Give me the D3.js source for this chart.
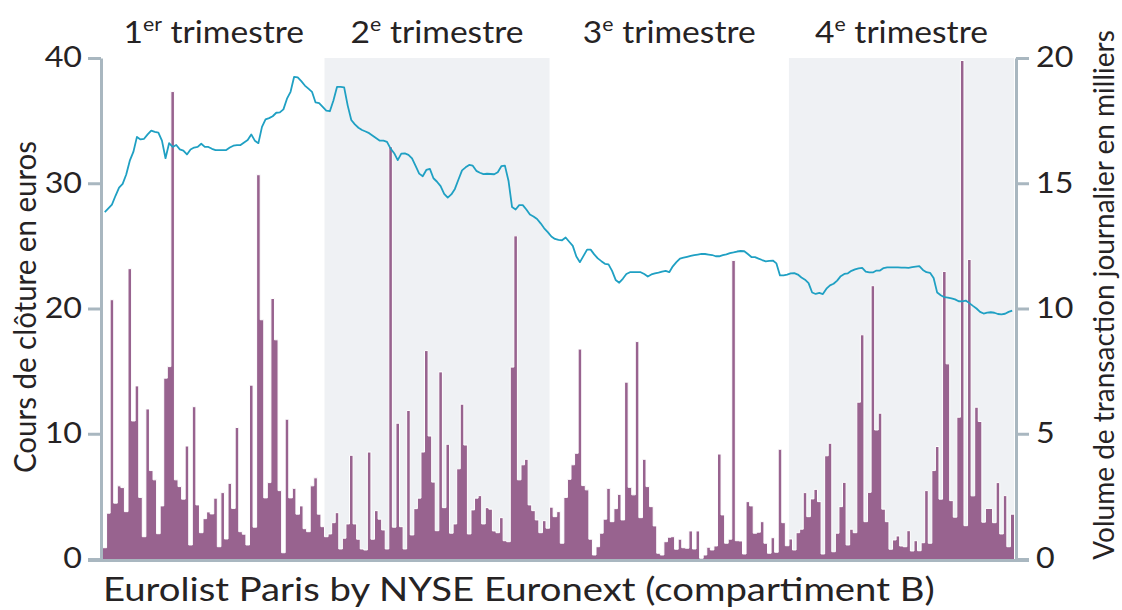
<!DOCTYPE html>
<html>
<head>
<meta charset="utf-8">
<script src="https://cdn.jsdelivr.net/npm/d3@7"></script>
<style>
    body { margin: 0; background: #fff; }
    svg { display: block; }
    text { font-family: Lato, "Open Sans", sans-serif; fill: #262324; }
</style>
</head>
<body>
<svg id="chart" width="1122" height="610"></svg>
<script>
// Volume journalier (milliers) par trimestre
const volumeT1 = [0.45, 1.83, 10.35, 2.23, 2.92, 2.85, 1.89, 11.59, 5.51, 6.91,
    2.46, 0.89, 5.99, 3.53, 3.16, 1.01, 2.12, 7.22, 7.68, 18.66,
    3.16, 2.89, 2.39, 4.51, 0.56, 6.08, 2.16, 1.05, 1.61, 1.88,
    1.8, 2.43, 0.49, 2.65, 0.8, 3.02, 2.02, 5.25, 1.09, 0.99,
    0.56, 6.94, 1.27, 15.34, 9.55, 2.44, 3.05, 10.4, 8.75, 2.73,
    0.25, 5.58, 2.44, 2.82, 1.79, 2.12, 1.21, 1.09, 2.92, 3.24,
    1.79, 1.29];
const volumeT2 = [0.89, 1.0, 1.45, 1.85, 0.4, 0.83, 1.4, 4.14, 1.4, 0.79,
    0.4, 0.36, 4.27, 0.79, 1.93, 1.59, 1.16, 0.4, 16.46, 1.27,
    5.42, 1.29, 0.4, 5.93, 0.96, 2.01, 2.43, 4.27, 8.32, 4.91,
    3.07, 1.13, 7.47, 2.05, 4.58, 1.03, 1.4, 3.6, 6.18, 4.55,
    1.0, 1.96, 2.43, 2.53, 1.4, 2.05, 1.99, 1.12, 1.05, 1.65,
    0.73, 0.69, 7.66, 12.9, 3.16, 3.76, 3.98, 2.16, 1.93, 1.56,
    1.05, 1.53, 1.23];
const volumeT3 = [2.07, 1.69, 1.89, 0.63, 2.46, 3.18, 3.76, 4.22, 8.38, 2.93,
    2.76, 0.79, 0.16, 0.49, 1.03, 1.59, 2.82, 1.49, 2.01, 2.58,
    1.56, 7.06, 2.86, 2.56, 8.68, 1.65, 3.98, 2.89, 2.09, 1.32,
    0.23, 0.16, 0.69, 0.87, 0.89, 0.39, 0.79, 0.45, 0.43, 1.12,
    0.4, 1.12, 0.03, 0.16, 0.47, 0.36, 0.52, 4.19, 1.76, 0.63,
    0.79, 11.92, 0.73, 0.72, 0.2, 2.29, 2.12, 1.03, 1.07, 1.49,
    0.63, 0.23, 0.85, 0.27, 4.38, 1.45, 0.53];
const volumeT4 = [0.8, 0.36, 1.05, 1.19, 2.65, 1.69, 2.4, 2.78, 2.29, 0.2,
    4.12, 4.62, 0.29, 1.03, 2.09, 3.06, 0.56, 1.19, 1.05, 6.26,
    8.95, 1.49, 2.66, 10.91, 5.15, 5.82, 1.99, 1.49, 0.39, 0.76,
    0.92, 0.52, 0.49, 1.13, 0.32, 0.73, 0.33, 0.65, 2.73, 0.63,
    3.53, 4.49, 2.39, 11.48, 7.79, 2.33, 1.67, 5.66, 19.9, 1.33,
    11.96, 2.52, 6.06, 5.49, 1.47, 2.02, 2.02, 1.45, 3.05, 1.0,
    2.53, 0.49, 1.79];

// Cours de clôture (euros) par trimestre
const priceT1 = [27.7, 28.0, 28.3, 29.0, 29.65, 29.95, 30.7, 31.8, 32.5, 33.7,
    33.5, 33.55, 33.9, 34.2, 34.1, 34.05, 33.4, 32.0, 33.2, 32.9,
    33.05, 32.7, 32.6, 32.3, 32.7, 32.85, 32.9, 33.15, 32.9, 32.9,
    32.75, 32.65, 32.65, 32.65, 32.65, 32.85, 33.0, 33.05, 33.05, 33.26,
    33.45, 33.9, 33.4, 33.2, 34.5, 35.1, 35.2, 35.35, 35.63, 35.66,
    35.9, 36.75, 37.3, 38.5, 38.45, 38.15, 37.8, 37.55, 37.3, 36.45,
    36.4, 36.1];
const priceT2 = [35.8, 35.75, 36.6, 37.69, 37.69, 37.65, 36.2, 35.05, 34.7, 34.43,
    34.25, 34.13, 34.0, 33.8, 33.6, 33.4, 33.4, 33.3, 32.77, 32.4,
    31.85, 32.37, 32.38, 32.27, 31.98, 31.38, 30.77, 30.56, 31.06, 31.15,
    30.4, 30.12, 29.77, 29.16, 28.85, 29.11, 29.55, 30.3, 31.03, 31.27,
    31.46, 31.4, 30.99, 30.84, 30.73, 30.76, 30.74, 30.72, 30.88, 31.36,
    31.41, 30.2, 28.1, 27.9, 28.25, 28.25, 27.9, 27.5, 27.35, 27.15,
    26.8, 26.4, 26.1];
const priceT3 = [25.75, 25.55, 25.48, 25.45, 25.67, 25.33, 25.0, 24.15, 23.7, 24.2,
    24.7, 24.7, 24.32, 24.0, 23.78, 23.57, 23.52, 23.0, 22.28, 22.06,
    22.37, 22.75, 22.9, 22.9, 22.9, 22.9, 22.75, 22.55, 22.72, 22.8,
    22.86, 22.94, 23.0, 22.9, 23.37, 23.7, 23.99, 24.06, 24.13, 24.2,
    24.26, 24.31, 24.36, 24.35, 24.31, 24.27, 24.17, 24.17, 24.26, 24.32,
    24.42, 24.48, 24.55, 24.59, 24.57, 24.35, 24.11, 24.1, 23.98, 23.87,
    23.77, 23.8, 23.83, 23.6, 22.64, 22.64, 22.7];
const priceT4 = [22.8, 22.83, 22.71, 22.48, 22.3, 22.03, 21.28, 21.16, 21.24, 21.15,
    21.58, 21.85, 21.98, 22.23, 22.58, 22.76, 22.81, 23.01, 23.13, 23.21,
    23.25, 22.95, 22.89, 22.88, 23.03, 23.03, 23.23, 23.28, 23.28, 23.28,
    23.28, 23.27, 23.26, 23.25, 23.3, 23.34, 23.38, 23.08, 22.9, 22.85,
    22.43, 21.27, 21.06, 20.9, 20.87, 20.81, 20.73, 20.58, 20.57, 20.63,
    20.43, 20.21, 20.0, 19.73, 19.6, 19.67, 19.7, 19.66, 19.56, 19.53,
    19.58, 19.73, 19.83];

const quarterNumbers = ['1', '2', '3', '4'];
const quarterSuffixes = ['er', 'e', 'e', 'e'];
const priceTicks = [0, 10, 20, 30, 40];
const volumeTicks = [0, 5, 10, 15, 20];
const leftTitle = 'Cours de clôture en euros';
const rightTitle = 'Volume de transaction journalier en milliers';
const sourceLabel = 'Eurolist Paris by NYSE Euronext (compartiment B)';

const svg = d3.select('#chart');
const axisColor = '#a9b7c0';

const volumes = [volumeT1, volumeT2, volumeT3, volumeT4];
const allVolumes = volumes.flat();
const allPrices = [priceT1, priceT2, priceT3, priceT4].flat();
const n = allVolumes.length;

const x = d3.scaleLinear().domain([0, n]).range([103, 1014]);
const yPrice = d3.scaleLinear().domain([0, 40]).range([559, 58]);
const yVol = d3.scaleLinear().domain([0, 20]).range([559, 58]);

// Trimestres
let cursor = 0;
const quarters = volumes.map((q, i) => {
    const start = cursor;
    cursor += q.length;
    return { i, start, end: cursor };
});

svg.selectAll('rect.shade')
    .data(quarters.filter(q => q.i % 2 === 1))
    .join('rect')
    .attr('class', 'shade')
    .attr('x', d => x(d.start))
    .attr('width', d => x(d.end) - x(d.start))
    .attr('y', yVol(20))
    .attr('height', yVol(0) - yVol(20))
    .attr('fill', '#eff1f4');

// Barres de volume (en escalier, liseré blanc)
const steps = allVolumes.map((v, i) => [i, v]);
steps.push([n, allVolumes[n - 1]]);

const area = d3.area()
    .x(d => x(d[0]))
    .y0(yVol(0))
    .y1(d => yVol(d[1]))
    .curve(d3.curveStepAfter);

svg.append('path')
    .datum(steps)
    .attr('d', area)
    .attr('fill', '#98638f');

const outline = d3.line()
    .x(d => x(d[0]))
    .y(d => yVol(d[1]))
    .curve(d3.curveStepAfter);

svg.append('path')
    .datum(steps)
    .attr('d', outline)
    .attr('fill', 'none')
    .attr('stroke', '#fff')
    .attr('stroke-width', 1);

// Courbe du cours
const line = d3.line()
    .x((d, i) => x(i + 0.5))
    .y(d => yPrice(d));

svg.append('path')
    .datum(allPrices)
    .attr('d', line)
    .attr('fill', 'none')
    .attr('stroke', '#1fa0c3')
    .attr('stroke-width', 1.8)
    .attr('stroke-linejoin', 'round');

// Axes
function styleAxis(g, pad) {
    const sx = 1.15;
    g.select('.domain').attr('stroke', axisColor).attr('stroke-width', 3);
    g.selectAll('.tick line').attr('stroke', axisColor).attr('stroke-width', 3);
    g.selectAll('.tick text')
        .attr('font-size', 28)
        .attr('font-family', 'Lato')
        .attr('fill', '#262324')
        .attr('x', pad / sx)
        .attr('transform', `scale(${sx},1)`);
}

svg.append('g')
    .attr('transform', 'translate(101,0)')
    .call(d3.axisLeft(yPrice).tickValues(priceTicks).tickSize(13).tickSizeOuter(0))
    .call(g => styleAxis(g, -19));

svg.append('g')
    .attr('transform', 'translate(1016,0)')
    .call(d3.axisRight(yVol).tickValues(volumeTicks).tickSize(13).tickSizeOuter(0))
    .call(g => styleAxis(g, 20));

svg.append('line')
    .attr('x1', 88).attr('x2', 1029)
    .attr('y1', yVol(0) + 1.5).attr('y2', yVol(0) + 1.5)
    .attr('stroke', axisColor)
    .attr('stroke-width', 3);

// Titres des trimestres
const qLabels = svg.selectAll('text.quarter')
    .data(quarters)
    .join('text')
    .attr('class', 'quarter')
    .attr('text-anchor', 'middle')
    .attr('font-size', 30)
    .attr('transform', d => `translate(${(x(d.start) + x(d.end)) / 2},43) scale(1.12,1)`);

qLabels.append('tspan').text(d => quarterNumbers[d.i]);
qLabels.append('tspan').text(d => quarterSuffixes[d.i])
    .attr('font-size', 19).attr('dy', -12);
qLabels.append('tspan').text(' trimestre').attr('dy', 12);

// Titres des axes
svg.append('text')
    .attr('text-anchor', 'middle')
    .attr('font-size', 29.5)
    .attr('transform', 'translate(36,307) scale(1.05,1) rotate(-90)')
    .text(leftTitle);

svg.append('text')
    .attr('text-anchor', 'middle')
    .attr('font-size', 28)
    .attr('transform', 'translate(1114,295) rotate(-90)')
    .text(rightTitle);

svg.append('text')
    .attr('font-size', 33)
    .attr('transform', 'translate(103,601) scale(1.16,1)')
    .text(sourceLabel);
</script>
</body>
</html>
